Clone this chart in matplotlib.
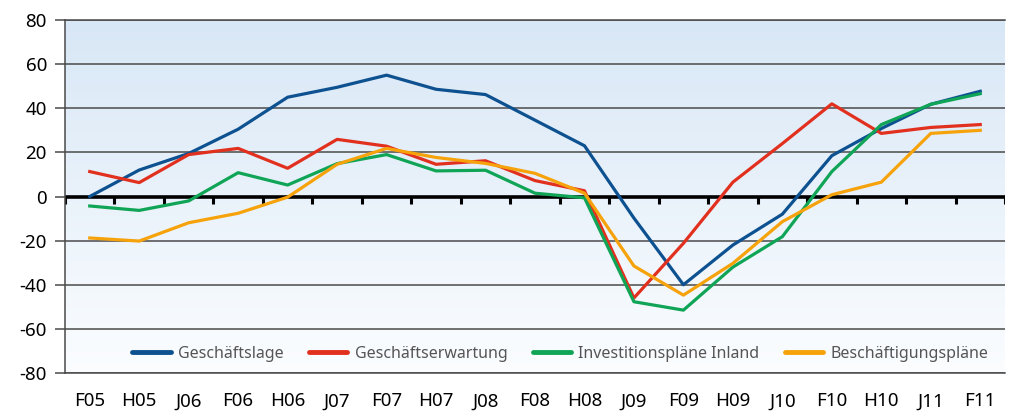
import numpy as np
import matplotlib
matplotlib.use("Agg")
import matplotlib.pyplot as plt
from matplotlib.colors import LinearSegmentedColormap

plt.rcParams['font.family'] = ['Noto Sans', 'DejaVu Sans']
plt.rcParams['axes.unicode_minus'] = False

# Halbjahres-Umfragen
periods = ['F05', 'H05', 'J06', 'F06', 'H06', 'J07', 'F07', 'H07', 'J08', 'F08',
           'H08', 'J09', 'F09', 'H09', 'J10', 'F10', 'H10', 'J11', 'F11']

lage = [0, 12, 19.5, 30.5, 45, 49.5, 55, 48.6, 46.2, 34.6,
        23, -9.8, -40, -22, -8, 18.5, 30.8, 41.8, 47.7]
erwartung = [11.3, 6.3, 19, 21.8, 12.8, 25.9, 22.8, 14.6, 16.2, 7.2,
             2.6, -46, -21.2, 6.5, 24, 42, 28.6, 31.3, 32.6]
invest = [-4.3, -6.3, -2, 10.8, 5.2, 14.9, 19, 11.6, 11.9, 1.5,
          -0.6, -47.7, -51.5, -32, -18.2, 11.3, 32.6, 41.8, 46.6]
beschaeftigung = [-18.8, -20.2, -11.9, -7.6, -0.3, 14.6, 21.8, 17.7, 15, 10.5,
                  1.5, -31.5, -44.7, -30.3, -11.4, 0.8, 6.5, 28.6, 30]

series = [
    ('Geschäftslage', lage, '#0d5190'),
    ('Geschäftserwartung', erwartung, '#e2301f'),
    ('Investitionspläne Inland', invest, '#10a556'),
    ('Beschäftigungspläne', beschaeftigung, '#f6a20a'),
]

fig = plt.figure(figsize=(10.11, 4.16), dpi=100)
ax = fig.add_axes([65 / 1011, 43 / 416, 940 / 1011, 353 / 416])

x = np.arange(len(periods))
ax.set_xlim(-0.5, len(periods) - 0.5)
ax.set_ylim(-80, 80)

# hellblauer Verlauf im Hintergrund
cmap = LinearSegmentedColormap.from_list('bg', ['#fbfdff', '#d8e7f6'])
ax.imshow(np.linspace(0, 1, 256).reshape(-1, 1), extent=[-0.5, len(periods) - 0.5, -80, 80],
          origin='lower', aspect='auto', cmap=cmap, zorder=0)

ax.set_yticks(range(-80, 81, 20))
ax.yaxis.grid(True, color='#4a4a4a', linewidth=1.1)
ax.set_axisbelow(True)
ax.tick_params(axis='y', length=7, width=1.1, color='#4a4a4a', labelsize=13.5, pad=6)

ax.set_xticks(x)
ax.set_xticklabels(periods)
ax.tick_params(axis='x', length=0, labelsize=13.5, pad=14)

for side in ['top', 'bottom', 'left']:
    ax.spines[side].set_color('#4a4a4a')
    ax.spines[side].set_linewidth(1.1)
ax.spines['right'].set_visible(False)

# Nulllinie mit Strichen zwischen den Kategorien
ax.axhline(0, color='black', linewidth=2.6, zorder=2)
ax.vlines(np.arange(len(periods) + 1) - 0.5, -3.5, 0, color='black', linewidth=2.2, zorder=2)

for name, vals, col in series:
    ax.plot(x, vals, color=col, linewidth=2.3, label=name, zorder=3)

leg = ax.legend(loc='center', bbox_to_anchor=(0.527, 0.055), ncol=4, frameon=False,
                fontsize=11.5, handlelength=2.4, columnspacing=1.6, handletextpad=0.45)
for h in leg.get_lines():
    h.set_linewidth(3.5)
    h.set_solid_capstyle('round')
for t in leg.get_texts():
    t.set_color('#555555')

fig.savefig('out.png', dpi=100)
